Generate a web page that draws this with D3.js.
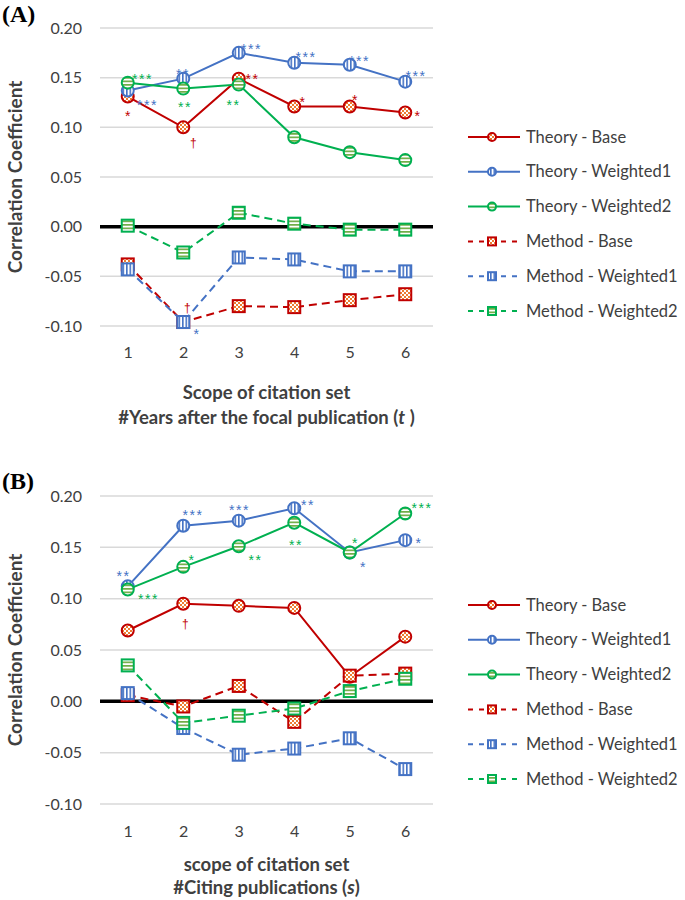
<!DOCTYPE html>
<html><head><meta charset="utf-8">
<script src="https://cdn.jsdelivr.net/npm/d3@7"></script>
<style>
body{margin:0;background:#fff;}
svg{display:block;}
</style></head>
<body><svg id="c" width="685" height="900" font-family="Lato, 'Open Sans', sans-serif"></svg>
<script>
// ---------- DATA ----------
const categories = [1, 2, 3, 4, 5, 6];
const yTicks = [0.20, 0.15, 0.10, 0.05, 0.00, -0.05, -0.10];
const seriesNames = ["Theory - Base", "Theory - Weighted1", "Theory - Weighted2",
                     "Method - Base", "Method - Weighted1", "Method - Weighted2"];

// Panel A: #years after focal publication (t)
const A_theoryBase      = [0.131, 0.100, 0.149, 0.121, 0.121, 0.115];
const A_theoryWeighted1 = [0.137, 0.149, 0.175, 0.165, 0.163, 0.146];
const A_theoryWeighted2 = [0.145, 0.139, 0.143, 0.090, 0.075, 0.067];
const A_methodBase      = [-0.038, -0.096, -0.080, -0.081, -0.074, -0.068];
const A_methodWeighted1 = [-0.043, -0.096, -0.031, -0.033, -0.045, -0.045];
const A_methodWeighted2 = [0.001, -0.026, 0.014, 0.003, -0.003, -0.003];

// Panel B: #citing publications (s)
const B_theoryBase      = [0.069, 0.095, 0.093, 0.091, 0.024, 0.063];
const B_theoryWeighted1 = [0.112, 0.171, 0.176, 0.188, 0.145, 0.157];
const B_theoryWeighted2 = [0.109, 0.131, 0.151, 0.174, 0.145, 0.183];
const B_methodBase      = [0.006, -0.005, 0.015, -0.020, 0.025, 0.027];
const B_methodWeighted1 = [0.008, -0.026, -0.052, -0.046, -0.036, -0.066];
const B_methodWeighted2 = [0.035, -0.021, -0.014, -0.007, 0.010, 0.022];

// significance marks: [seriesIndex, pointIndex, label]
const A_sig = [
  [0,0,"*"],[0,1,"†"],[0,2,"**"],[0,3,"*"],[0,4,"*"],[0,5,"*"],
  [1,0,"***"],[1,1,"**"],[1,2,"***"],[1,3,"***"],[1,4,"***"],[1,5,"***"],
  [2,0,"***"],[2,1,"**"],[2,2,"**"],
  [3,1,"†"],[4,1,"*"]
];
const B_sig = [
  [0,1,"†"],
  [1,0,"**"],[1,1,"***"],[1,2,"***"],[1,3,"**"],[1,4,"*"],[1,5,"*"],
  [2,0,"***"],[2,1,"*"],[2,2,"**"],[2,3,"**"],[2,4,"*"],[2,5,"***"]
];

// ---------- STYLE / LAYOUT ----------
const sigOffsetA = [
  [0,16],[10,16],[13,-3],[8,-7],[5,-9],[12,1],
  [19,11],[-1,-8],[12,-7],[11,-9],[9,-7],[10,-9],
  [14,-7],[1,15],[-6,17],
  [4,-14],[13,9]
];
const sigOffsetB = [
  [2,20],
  [-5,-13],[9,-14],[0,-14],[13,-6],[13,12],[13,0],
  [20,7],[8,-10],[16,11],[1,19],[5,-12],[16,-8]
];
const colors = ["#C00000", "#4472C4", "#00B050", "#C00000", "#4472C4", "#00B050"];
const fills = ["url(#pRed)", "url(#pBlue)", "url(#pGreen)", "url(#pRed)", "url(#pBlue)", "url(#pGreen)"];
const sigColors = ["#C00000", "#4472C4", "#00B050", "#C00000", "#4472C4", "#00B050"];

const svg = d3.select("#c");
const defs = svg.append("defs");
const pr = defs.append("pattern").attr("id","pRed").attr("patternUnits","userSpaceOnUse").attr("width",4).attr("height",4);
pr.append("rect").attr("width",4).attr("height",4).attr("fill","#fff");
pr.append("rect").attr("width",2).attr("height",2).attr("fill","#ED7D31");
pr.append("rect").attr("x",2).attr("y",2).attr("width",2).attr("height",2).attr("fill","#ED7D31");
const pb = defs.append("pattern").attr("id","pBlue").attr("patternUnits","userSpaceOnUse").attr("width",3.5).attr("height",4);
pb.append("rect").attr("width",3.5).attr("height",4).attr("fill","#fff");
pb.append("rect").attr("width",1.6).attr("height",4).attr("fill","#4472C4");
const pg = defs.append("pattern").attr("id","pGreen").attr("patternUnits","userSpaceOnUse").attr("width",4).attr("height",3.5);
pg.append("rect").attr("width",4).attr("height",3.5).attr("fill","#fff");
pg.append("rect").attr("width",4).attr("height",1.7).attr("fill","#70AD47");

function drawMarker(g, isSquare, x, y, i, size) {
  if (isSquare) {
    g.append("rect").attr("x", x - size).attr("y", y - size)
      .attr("width", size*2).attr("height", size*2)
      .attr("fill", fills[i]).attr("stroke", colors[i]).attr("stroke-width", 2);
  } else {
    g.append("circle").attr("cx", x).attr("cy", y).attr("r", size)
      .attr("fill", fills[i]).attr("stroke", colors[i]).attr("stroke-width", 2);
  }
}

function panel(cfg) {
  const g = svg.append("g");
  const x = d3.scalePoint().domain(categories).range([cfg.left + 27.75, cfg.right - 27.75]);
  const y = d3.scaleLinear().domain([-0.10, 0.20]).range([cfg.bottom, cfg.top]);

  g.selectAll(".grid").data(yTicks.filter(d => d !== 0)).join("line")
    .attr("x1", cfg.left).attr("x2", cfg.right)
    .attr("y1", d => y(d)).attr("y2", d => y(d))
    .attr("stroke", "#D9D9D9").attr("stroke-width", 1.5);

  const yAxis = d3.axisLeft(y).tickValues(yTicks).tickFormat(d3.format(".2f")).tickSize(0).tickPadding(0);
  const ya = g.append("g").attr("transform", `translate(${cfg.left - 18},0)`).call(yAxis);
  ya.select(".domain").remove();
  ya.selectAll("text").attr("font-size", 16).attr("fill", "#404040")
    .attr("font-family", "Lato, sans-serif").text(d => d3.format(".2f")(d).replace("−", "-"));

  const xAxis = d3.axisBottom(x).tickSize(0).tickPadding(0);
  const xa = g.append("g").attr("transform", `translate(0,${cfg.xLabelY})`).call(xAxis);
  xa.select(".domain").remove();
  xa.selectAll("text").attr("font-size", 16).attr("fill", "#404040").attr("font-family", "Lato, sans-serif");

  g.append("line").attr("x1", cfg.left).attr("x2", cfg.right)
    .attr("y1", y(0)).attr("y2", y(0)).attr("stroke", "#000").attr("stroke-width", 3.5);

  const line = d3.line().x((d, j) => x(categories[j])).y(d => y(d));
  cfg.data.forEach((vals, i) => {
    const isM = i >= 3;
    g.append("path").attr("d", line(vals)).attr("fill", "none")
      .attr("stroke", colors[i]).attr("stroke-width", 2)
      .attr("stroke-dasharray", isM ? "8,5" : null);
    vals.forEach((v, j) => drawMarker(g, isM, x(categories[j]), y(v), i, 6));
  });

  cfg.sig.forEach((s, k) => {
    const [si, pi, lab] = s;
    const [dx, dy] = cfg.offsets[k];
    const isDag = lab === "†";
    g.append("text").attr("x", x(categories[pi]) + dx + (isDag ? 0 : 0.75))
      .attr("y", y(cfg.data[si][pi]) + dy + (isDag ? 4 : 8))
      .attr("text-anchor", "middle").attr("font-family", "'Liberation Sans', Arial, sans-serif")
      .attr("font-size", isDag ? 12 : 14)
      .attr("letter-spacing", isDag ? 0 : 1.5)
      .attr("fill", sigColors[si]).text(lab);
  });

  g.append("text").attr("transform", `translate(${cfg.yTitleX},${(cfg.top + cfg.bottom) / 2}) rotate(-90)`)
    .attr("text-anchor", "middle").attr("font-size", 19).attr("font-weight", "bold")
    .attr("fill", "#404040").text("Correlation Coefficient");

  const cx = (cfg.left + cfg.right) / 2;
  g.append("text").attr("x", cx).attr("y", cfg.title1Y).attr("text-anchor", "middle")
    .attr("font-size", 18.5).attr("font-weight", "bold").attr("fill", "#404040").text(cfg.title1);
  const t2 = g.append("text").attr("x", cx).attr("y", cfg.title2Y).attr("text-anchor", "middle")
    .attr("font-size", 18.5).attr("font-weight", "bold").attr("fill", "#404040");
  t2.append("tspan").text(cfg.title2a);
  t2.append("tspan").attr("font-style", "italic").text(cfg.title2b);
  t2.append("tspan").text(cfg.title2c);

  g.append("text").attr("x", 2).attr("y", cfg.labelY).attr("font-family", "'Liberation Serif','Times New Roman',serif")
    .attr("font-size", 24).attr("font-weight", "bold").attr("fill", "#000").text(cfg.label);

  seriesNames.forEach((name, i) => {
    const ly = cfg.legendTop + i * 34.8;
    const isM = i >= 3;
    const lg = g.append("g");
    lg.append("line").attr("x1", 468).attr("x2", 520).attr("y1", ly).attr("y2", ly)
      .attr("stroke", colors[i]).attr("stroke-width", 2)
      .attr("stroke-dasharray", isM ? "5,6" : null);
    drawMarker(lg, isM, 492, ly, i, 4);
    lg.append("text").attr("x", 526).attr("y", ly + 5.5).attr("font-size", 16.5)
      .attr("fill", "#404040").text(name);
  });
}

panel({
  left: 100, right: 433, top: 28, bottom: 326, xLabelY: 347,
  data: [A_theoryBase, A_theoryWeighted1, A_theoryWeighted2, A_methodBase, A_methodWeighted1, A_methodWeighted2],
  sig: A_sig, offsets: sigOffsetA, yTitleX: 22,
  title1: "Scope of citation set", title1Y: 399,
  title2a: "#Years after the focal publication (", title2b: "t", title2c: " )", title2Y: 424,
  label: "(A)", labelY: 22, legendTop: 137
});
panel({
  left: 100, right: 433, top: 496, bottom: 804, xLabelY: 826,
  data: [B_theoryBase, B_theoryWeighted1, B_theoryWeighted2, B_methodBase, B_methodWeighted1, B_methodWeighted2],
  sig: B_sig, offsets: sigOffsetB, yTitleX: 22,
  title1: "scope of citation set", title1Y: 871,
  title2a: "#Citing publications (", title2b: "s", title2c: ")", title2Y: 894,
  label: "(B)", labelY: 489, legendTop: 605
});
</script></body></html>
